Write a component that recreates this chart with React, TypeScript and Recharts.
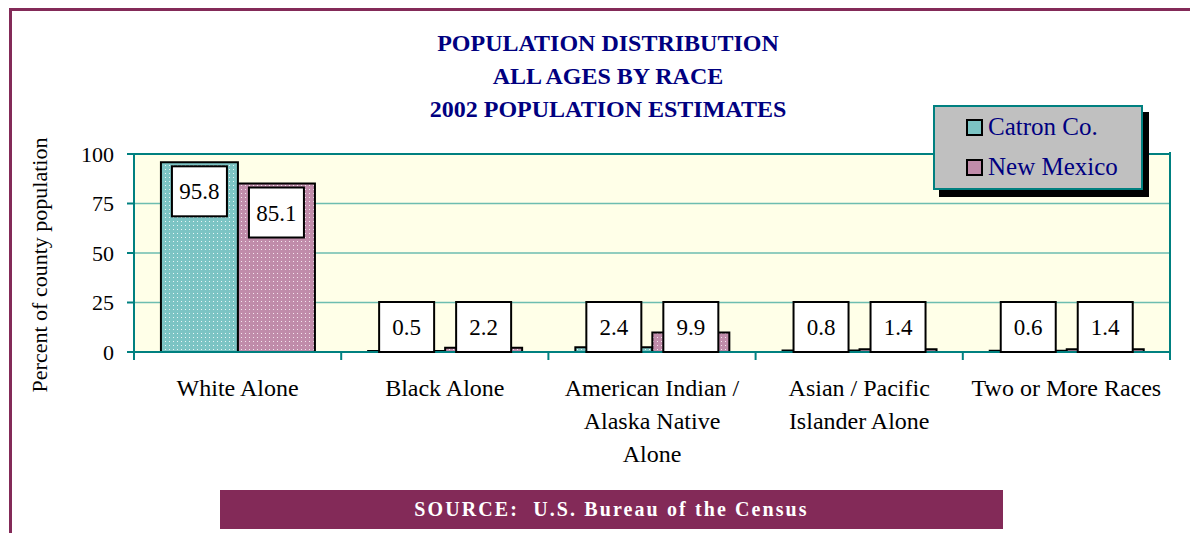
import { Bar, BarChart, CartesianGrid, LabelList, ReferenceLine, XAxis, YAxis } from 'recharts';

const categories = [
  'White Alone',
  'Black Alone',
  'American Indian /\nAlaska Native\nAlone',
  'Asian / Pacific\nIslander Alone',
  'Two or More Races',
];
const catron = [95.8, 0.5, 2.4, 0.8, 0.6];
const newMexico = [85.1, 2.2, 9.9, 1.4, 1.4];
const yTicks = [0, 25, 50, 75, 100];
const titleLines = ['POPULATION DISTRIBUTION', 'ALL AGES BY RACE', '2002 POPULATION ESTIMATES'];

const data = categories.map((name, i) => ({ name, catron: catron[i], nm: newMexico[i] }));

const W = 1190;
const H = 533;
const PLOT_LEFT = 134;
const PLOT_RIGHT = 1170;
const BAND = (PLOT_RIGHT - PLOT_LEFT) / categories.length;
const FONT = '"Liberation Serif", "Times New Roman", serif';
const TEAL = '#008080';
const NAVY = '#000080';
const MAROON = '#832A58';

function CategoryTick(props: any) {
  const { x, y, payload, index } = props;
  const lines = String(payload.value).split('\n');
  return (
    <g>
      <line x1={x - BAND / 2} x2={x - BAND / 2} y1={y} y2={y + 8} stroke={TEAL} strokeWidth={2} />
      {index === categories.length - 1 && (
        <line x1={x + BAND / 2} x2={x + BAND / 2} y1={y - 200} y2={y + 8} stroke={TEAL} strokeWidth={2} />
      )}
      {lines.map((l, i) => (
        <text key={i} x={x} y={y + 44 + i * 33} textAnchor="middle" fontSize={24} fontFamily={FONT} fill="#000">
          {l}
        </text>
      ))}
    </g>
  );
}

function ValueBox(props: any) {
  const { x, y, width, height, value } = props;
  const bw = 55;
  const bh = 50;
  const base = y + height;
  const top = Math.min(y + 4, base - bh);
  const cx = x + width / 2;
  return (
    <g>
      <rect x={cx - bw / 2} y={top} width={bw} height={bh} fill="#fff" stroke="#000" strokeWidth={2} />
      <text x={cx} y={top + bh / 2 + 8} textAnchor="middle" fontSize={23} fontFamily={FONT} fill="#000">
        {value.toFixed(1)}
      </text>
    </g>
  );
}

export default function App() {
  return (
    <div style={{ position: 'relative', width: W, height: H, fontFamily: FONT, background: '#fff' }}>
      <style>{'body{margin:0}'}</style>
      {/* frame */}
      <div style={{ position: 'absolute', left: 9, top: 8, width: W, height: H, borderLeft: `3px solid ${MAROON}`, borderTop: `3px solid ${MAROON}` }} />

      <BarChart
        width={W}
        height={H}
        data={data}
        margin={{ top: 154, right: 20, left: 74, bottom: 81 }}
        barCategoryGap="13%"
        barGap={0}
      >
        <defs>
          <pattern id="dotTeal" width="4" height="4" patternUnits="userSpaceOnUse">
            <rect width="4" height="4" fill="#7CC4C4" />
            <rect x="1" y="1" width="1" height="1" fill="#E8F6F6" />
          </pattern>
          <pattern id="dotPink" width="4" height="4" patternUnits="userSpaceOnUse">
            <rect width="4" height="4" fill="#C08CAA" />
            <rect x="1" y="1" width="1" height="1" fill="#F4E6EE" />
          </pattern>
        </defs>
        <CartesianGrid vertical={false} fill="#FFFFE8" stroke="#6DBDB0" strokeWidth={1.5} />
        <ReferenceLine y={100} stroke={TEAL} strokeWidth={2} />
        <XAxis
          dataKey="name"
          height={100}
          interval={0}
          tickLine={false}
          tickSize={0}
          tickMargin={0}
          axisLine={{ stroke: TEAL, strokeWidth: 2 }}
          tick={<CategoryTick />}
        />
        <YAxis
          width={60}
          domain={[0, 100]}
          ticks={yTicks}
          tickSize={7}
          tickMargin={13}
          axisLine={{ stroke: TEAL, strokeWidth: 2 }}
          tickLine={{ stroke: TEAL, strokeWidth: 2 }}
          tick={{ fontSize: 22, fontFamily: FONT, fill: '#000' }}
        />
        <Bar dataKey="catron" fill="url(#dotTeal)" stroke="#000" strokeWidth={2} isAnimationActive={false}>
          <LabelList dataKey="catron" content={<ValueBox />} />
        </Bar>
        <Bar dataKey="nm" fill="url(#dotPink)" stroke="#000" strokeWidth={2} isAnimationActive={false}>
          <LabelList dataKey="nm" content={<ValueBox />} />
        </Bar>
      </BarChart>

      {/* title */}
      <div style={{ position: 'absolute', left: 0, width: 1216, top: 27, textAlign: 'center', color: NAVY, fontWeight: 'bold', fontSize: 24, lineHeight: '33px' }}>
        {titleLines.map((t) => (
          <div key={t}>{t}</div>
        ))}
      </div>

      {/* y axis label */}
      <div
        style={{
          position: 'absolute',
          left: 40,
          top: 265,
          transform: 'translate(-50%, -50%) rotate(-90deg)',
          whiteSpace: 'nowrap',
          fontSize: 22,
          color: '#000',
        }}
      >
        Percent of county population
      </div>

      {/* legend */}
      <div style={{ position: 'absolute', left: 939, top: 112, width: 210, height: 85, background: '#000' }} />
      <div
        style={{
          position: 'absolute',
          left: 933,
          top: 105,
          width: 206,
          height: 81,
          background: '#C0C0C0',
          border: `2px solid ${TEAL}`,
        }}
      >
        {[
          { name: 'Catron Co.', fill: '#7CC4C4' },
          { name: 'New Mexico', fill: '#C08CAA' },
        ].map((it, i) => (
          <div key={it.name} style={{ position: 'absolute', left: 31, top: 5 + i * 40, height: 30, display: 'flex', alignItems: 'center' }}>
            <span style={{ width: 13, height: 13, background: it.fill, border: '2px solid #000', marginRight: 5 }} />
            <span style={{ fontSize: 25, color: NAVY }}>{it.name}</span>
          </div>
        ))}
      </div>

      {/* source banner */}
      <div
        style={{
          position: 'absolute',
          left: 220,
          top: 490,
          width: 783,
          height: 39,
          background: MAROON,
          color: '#fff',
          fontWeight: 'bold',
          fontSize: 20,
          letterSpacing: 2.1,
          lineHeight: '39px',
          textAlign: 'center',
        }}
      >
        SOURCE:&nbsp; U.S. Bureau of the Census
      </div>
    </div>
  );
}
